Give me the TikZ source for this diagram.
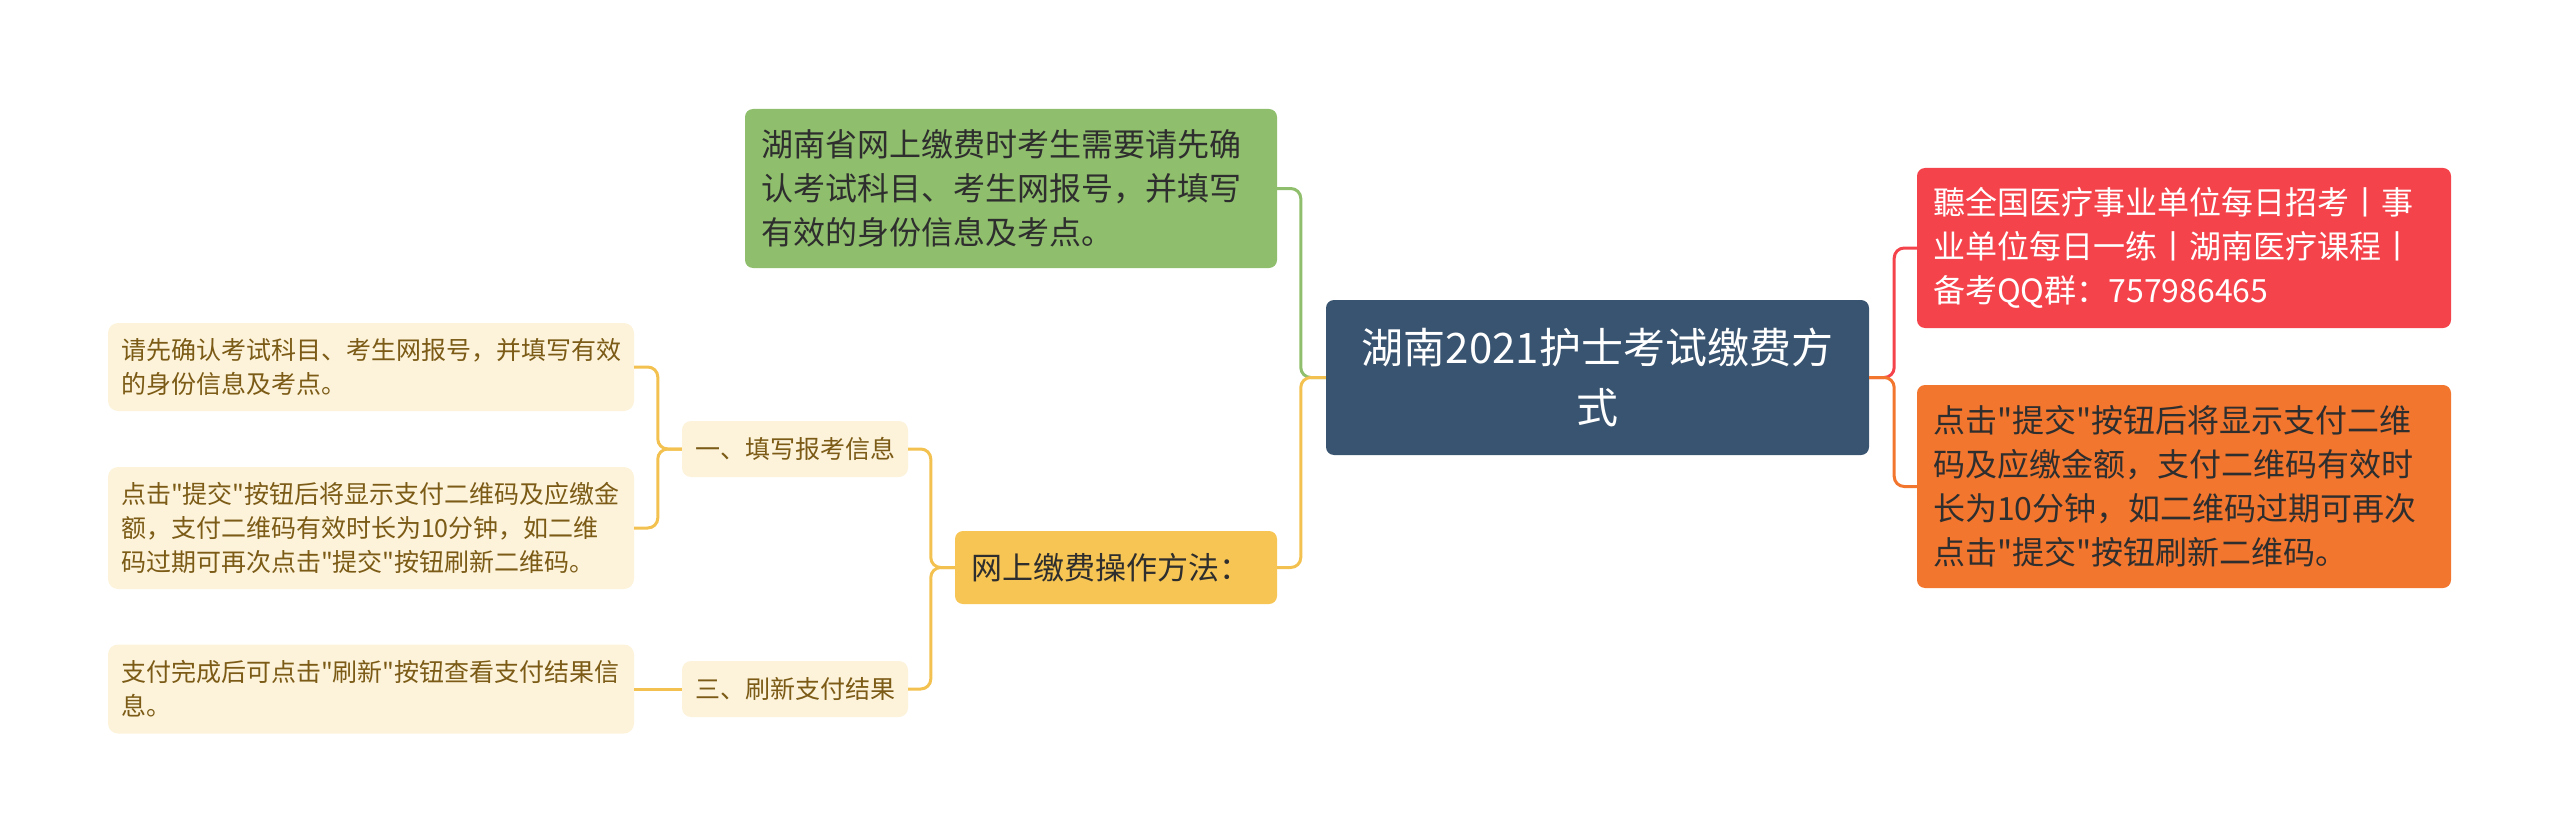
\documentclass[tikz,border=0pt]{standalone}
\usepackage{fontspec}
\setmainfont{Noto Sans CJK SC}[Ligatures=TeXOff]
\usepackage{tikz}
\usetikzlibrary{positioning,calc}
\usepackage{xcolor}
\definecolor{rootblue}{HTML}{395470}
\definecolor{leafgreen}{HTML}{8FBE6C}
\definecolor{wayyellow}{HTML}{F7C553}
\definecolor{linkyellow}{HTML}{F3C14F}
\definecolor{tipred}{HTML}{F5434B}
\definecolor{tiporange}{HTML}{F2762E}
\definecolor{cream}{HTML}{FDF3DB}
\definecolor{brown}{HTML}{7B5B16}
\definecolor{ink}{HTML}{2E2E2E}
\tikzset{
  rootbox/.style = {fill=rootblue, rounded corners=8pt, text=white,
                    align=center, inner sep=0pt,
                    font=\fontsize{42}{60}\selectfont},
  mainbox/.style = {rounded corners=8pt, align=left, inner ysep=0pt,
                    inner xsep=16pt, font=\fontsize{32}{44}\selectfont},
  subbox/.style  = {fill=cream, rounded corners=9pt, text=brown, inner sep=0pt,
                    align=center, font=\fontsize{25}{34}\selectfont},
  leafbox/.style = {fill=cream, rounded corners=10pt, text=brown, align=left,
                    inner ysep=0pt, inner xsep=13pt,
                    font=\fontsize{25}{34}\selectfont},
  link/.style    = {line width=3pt, rounded corners=10pt},
}

\begin{document}
\begin{tikzpicture}[x=1pt, y=-1pt]
\useasboundingbox (0,0) rectangle (2560,840);
% ---------------- central topic ----------------
\node[rootbox, minimum width=543pt, minimum height=155pt] (root) at (1597.5,377.5)
   {湖南2021护士考试缴费方\\式};
% ---------------- right branch ----------------
\node[mainbox, fill=tipred, text=white, text width=502pt, minimum height=160pt]
   (ad) at (2184,248)
   {聽全国医疗事业单位每日招考丨事\\业单位每日一练丨湖南医疗课程丨\\备考QQ群：757986465};
\node[mainbox, fill=tiporange, text=ink, text width=502pt, minimum height=203pt]
   (code) at (2184,486.5)
   {点击"提交"按钮后将显示支付二维\\码及应缴金额，支付二维码有效时\\长为10分钟，如二维码过期可再次\\点击"提交"按钮刷新二维码。};
\draw[link, draw=tipred] (root.east) -- ++(25,0) |- (ad.west);
\draw[link, draw=tiporange] (root.east) -- ++(25,0) |- (code.west);
% ---------------- left branch ----------------
\node[mainbox, fill=leafgreen, text=ink, text width=500pt, minimum height=159pt]
   (note) at (1011,188.5)
   {湖南省网上缴费时考生需要请先确\\认考试科目、考生网报号，并填写\\有效的身份信息及考点。};
\node[mainbox, fill=wayyellow, text=ink, text width=290pt, minimum height=73pt,
      font=\fontsize{31}{44}\selectfont]
   (way) at (1116,567.5) {网上缴费操作方法：};
\draw[link, draw=leafgreen] (root.west) -- ++(-25,0) |- (note.east);
\draw[link, draw=linkyellow] (root.west) -- ++(-25,0) |- (way.east);
% steps
\node[subbox, minimum width=226pt, minimum height=56pt] (fill) at (795,449)
   {一、填写报考信息};
\node[subbox, minimum width=226pt, minimum height=56pt] (refresh) at (795,689)
   {三、刷新支付结果};
\draw[link, draw=linkyellow] (way.west) -- ++(-24,0) |- (fill.east);
\draw[link, draw=linkyellow] (way.west) -- ++(-24,0) |- (refresh.east);
% leaves
\node[leafbox, text width=500pt, minimum height=88pt] (confirm) at (371,367)
   {请先确认考试科目、考生网报号，并填写有效\\的身份信息及考点。};
\node[leafbox, text width=500pt, minimum height=122pt] (submit) at (371,528)
   {点击"提交"按钮后将显示支付二维码及应缴金\\额，支付二维码有效时长为10分钟，如二维\\码过期可再次点击"提交"按钮刷新二维码。};
\node[leafbox, text width=500pt, minimum height=89pt] (check) at (371,689)
   {支付完成后可点击"刷新"按钮查看支付结果信\\息。};
\draw[link, draw=linkyellow] (fill.west) -- ++(-24,0) |- (confirm.east);
\draw[link, draw=linkyellow] (fill.west) -- ++(-24,0) |- (submit.east);
\draw[link, draw=linkyellow] (refresh.west) -- (check.east);
\end{tikzpicture}
\end{document}
